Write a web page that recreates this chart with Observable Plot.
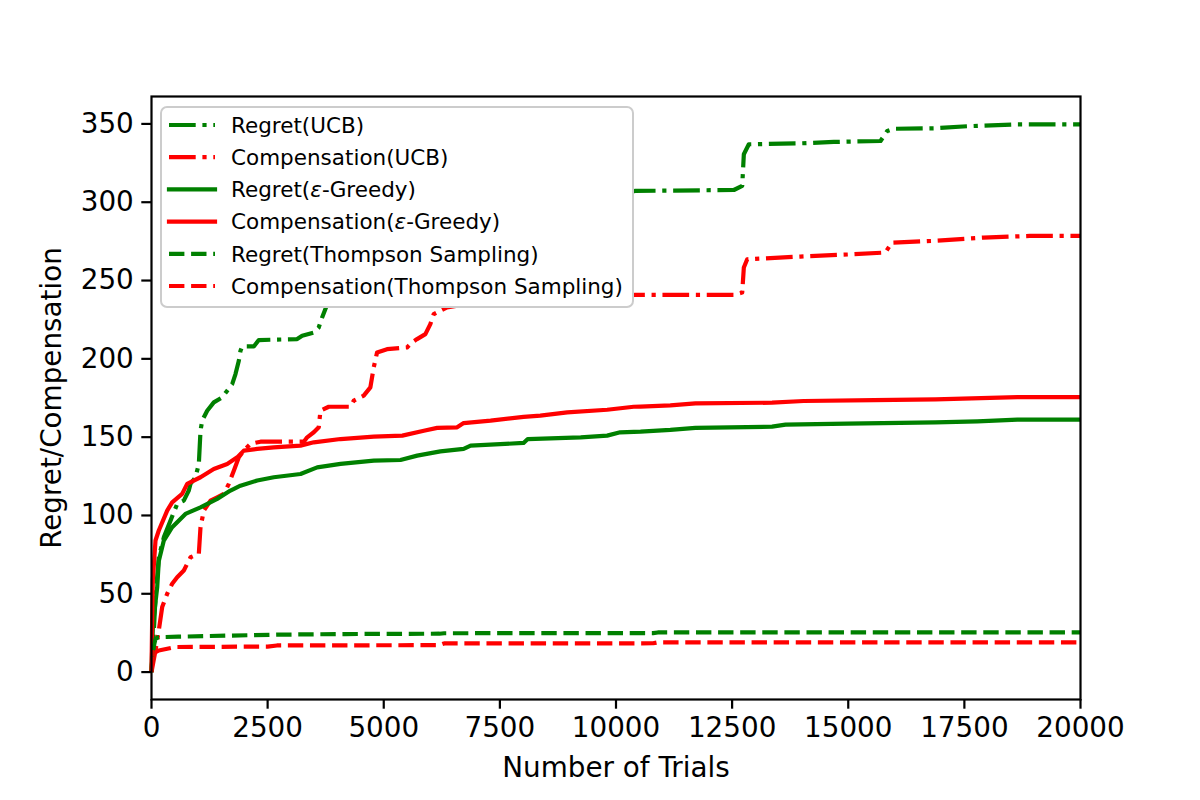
<!DOCTYPE html>
<html>
<head>
<meta charset="utf-8">
<script src="https://cdn.jsdelivr.net/npm/d3@7"></script>
<script src="https://cdn.jsdelivr.net/npm/@observablehq/plot@0.6"></script>
<style>
  html, body { margin: 0; padding: 0; background: white; }
  #chart { position: relative; width: 1200px; height: 800px; }
</style>
</head>
<body>
<div id="chart"></div>
<script>
// ---- data (trial, cumulative value) ----
const regretUCB = [[0,0],[40,20],[86,47.8],[157,73.3],[265,86],[409,96.7],[553,107.4],[695,109.5],[803,115.9],[840,120.2],[947,124.4],[1019,132.9],[1055,154.1],[1091,160.5],[1199,166.9],[1341,172.2],[1522,175.4],[1630,179.7],[1737,183.9],[1808,190.3],[1880,198.8],[1916,205.2],[1952,207.9],[2202,207.9],[2310,212],[3136,212.6],[3244,214.7],[3494,216.8],[3600,220],[3673,226.4],[3744,231.8],[3850,240],[4200,255],[4600,265],[5000,272],[5500,285],[6500,295],[7500,300],[8500,303],[10000,305.5],[10420,307.2],[12537,307.8],[12717,310.4],[12752,330.6],[12860,337],[13973,337.6],[14690,338.5],[15695,339.1],[15840,345.5],[15980,346.9],[16840,347.2],[17560,348.5],[18640,349.7],[20000,349.7]];
const compUCB = [[0,0],[86,13.8],[157,26.6],[230,41.5],[338,50],[445,56.4],[553,60.6],[696,64.9],[840,73.3],[1019,75.5],[1055,92.5],[1127,103.1],[1270,109.5],[1414,111.6],[1557,113.8],[1665,120.2],[1772,128.6],[1880,137.1],[1987,141.4],[2131,145.7],[2347,147.1],[3280,147.1],[3351,149.9],[3494,153.1],[3601,156.3],[3637,166.9],[3816,169.4],[4282,169.4],[4354,173.3],[4569,176.5],[4712,181.8],[4784,194.5],[4856,204.1],[5071,206.2],[5502,207.3],[5610,210.5],[5717,212.6],[5896,215.8],[6003,222.2],[6075,228.6],[6218,230.7],[6362,232.8],[7000,236],[8500,238.5],[10420,240.9],[12537,240.9],[12717,242.3],[12752,258.3],[12825,263.6],[13970,265.3],[15118,266.8],[15800,267.9],[15940,274.2],[16840,275.3],[17910,277.4],[18910,278.5],[20000,278.5]];
const regretGreedy = [[0,0],[30,30],[122,54],[157,71],[265,84],[445,92.5],[731,101],[1055,105.2],[1414,110.6],[1700,115.9],[1915,119],[2276,122.3],[2633,124.4],[3208,126.5],[3567,130.7],[4070,132.9],[4786,135],[5360,135.4],[5720,138.2],[6220,140.9],[6720,142.5],[6870,144.6],[8010,146.3],[8100,148.8],[9240,149.9],[9810,151],[10090,153.1],[10528,153.5],[11170,154.6],[11710,155.9],[13360,156.7],[13650,158],[14980,158.6],[16880,159.5],[17780,160.1],[18640,161.2],[20000,161.2]];
const compGreedy = [[0,0],[15,35],[28,58.5],[86,84],[157,90.4],[338,103.1],[445,108.4],[660,113.8],[768,120.2],[1055,124.4],[1341,129.7],[1630,132.9],[1845,137.1],[1987,141.4],[2276,142.5],[2633,143.5],[3208,144.6],[3494,146.7],[4070,148.8],[4786,150.3],[5400,151],[5863,154.1],[6150,155.9],[6580,156.3],[6720,159],[7300,160.5],[8010,163],[8370,163.7],[8950,165.8],[9810,167.5],[10380,169.4],[10528,169.5],[11170,170.3],[11710,171.6],[13360,172],[14040,173.1],[15550,173.7],[16880,174.1],[18640,175.6],[20000,175.6]];
const regretTS = [[0,0],[20,10],[60,18],[86,21.3],[157,22.3],[580,22.6],[1660,23.3],[2730,23.9],[4170,24.3],[6200,24.5],[6300,24.8],[10800,24.9],[10900,25.3],[20000,25.3]];
const compTS = [[0,0],[28,11.7],[157,13.8],[516,16],[2500,16.3],[2700,17],[6200,17.2],[6300,18.3],[10800,18.4],[10900,19],[20000,19]];

const seriesLabels = ["Regret(UCB)", "Compensation(UCB)", "Regret(ε-Greedy)", "Compensation(ε-Greedy)", "Regret(Thompson Sampling)", "Compensation(Thompson Sampling)"];
const xTicks = [0, 2500, 5000, 7500, 10000, 12500, 15000, 17500, 20000];
const yTicks = [0, 50, 100, 150, 200, 250, 300, 350];

// ---- styles ----
const GREEN = "#008000", RED = "#ff0000";
const DASHDOT = "26.7,6.7,4.2,6.7";
const DASHED = "15.4,6.7";
const seriesData = [regretUCB, compUCB, regretGreedy, compGreedy, regretTS, compTS];
const seriesStyle = [
  {stroke: GREEN, dash: DASHDOT},
  {stroke: RED, dash: DASHDOT},
  {stroke: GREEN, dash: null},
  {stroke: RED, dash: null},
  {stroke: GREEN, dash: DASHED},
  {stroke: RED, dash: DASHED}
];
const LW = 4.2;

const lineMarks = seriesData.map((d, i) => Plot.line(d, {
  x: p => p[0], y: p => p[1],
  stroke: seriesStyle[i].stroke,
  strokeWidth: LW,
  strokeDasharray: seriesStyle[i].dash || undefined,
  strokeLinecap: "butt",
  strokeLinejoin: "round"
}));

const chart = Plot.plot({
  width: 1200, height: 800,
  marginLeft: 151, marginRight: 120, marginTop: 96, marginBottom: 101,
  x: {domain: [0, 20000]},
  y: {domain: [-17.5, 367.5]},
  style: {fontFamily: "'DejaVu Sans', sans-serif", fontSize: "27.8px", color: "black", background: "white"},
  marks: [
    ...lineMarks,
    Plot.frame({stroke: "black", strokeWidth: 2.2}),
    Plot.axisX(xTicks, {tickSize: 9.7, tickPadding: 8, strokeWidth: 2.2, fontSize: 27.8, label: null, tickFormat: d => String(d)}),
    Plot.axisY(yTicks, {tickSize: 9.7, tickPadding: 8, strokeWidth: 2.2, fontSize: 27.8, label: null, tickFormat: d => String(d)}),
    Plot.text(["Number of Trials"], {text: d => d, frameAnchor: "bottom", dy: 69, fontSize: 27.8, lineAnchor: "middle", textAnchor: "middle", fill: "black"}),
    Plot.text(["Regret/Compensation"], {text: d => d, frameAnchor: "left", dx: -99, rotate: -90, fontSize: 27.8, lineAnchor: "middle", textAnchor: "middle", fill: "black"})
  ]
});
document.getElementById("chart").appendChild(chart);

// ---- legend (inside the axes, upper left) ----
const svg = d3.select(chart);
const lg = svg.append("g")
  .attr("font-family", "'DejaVu Sans', sans-serif")
  .attr("font-size", "21.5px")
  .attr("text-anchor", "start");
lg.append("rect").attr("x", 161).attr("y", 107).attr("width", 472).attr("height", 200)
  .attr("rx", 6).attr("fill", "white").attr("stroke", "#cccccc").attr("stroke-width", 2);
seriesLabels.forEach((lab, i) => {
  const y = 125 + i * 32.2;
  lg.append("line").attr("x1", 169).attr("x2", 215).attr("y1", y).attr("y2", y)
    .style("stroke", seriesStyle[i].stroke).style("stroke-width", LW)
    .style("stroke-dasharray", seriesStyle[i].dash || "none")
    .style("stroke-linecap", seriesStyle[i].dash ? "butt" : "square");
  const t = lg.append("text").attr("x", 231).attr("y", y).attr("dy", "0.36em")
    .attr("text-anchor", "start").style("fill", "black");
  const parts = lab.split("ε");
  t.append("tspan").text(parts[0]);
  if (parts.length > 1) {
    t.append("tspan").attr("font-style", "italic").text("ε");
    t.append("tspan").text(parts[1]);
  }
});
</script>
</body>
</html>
